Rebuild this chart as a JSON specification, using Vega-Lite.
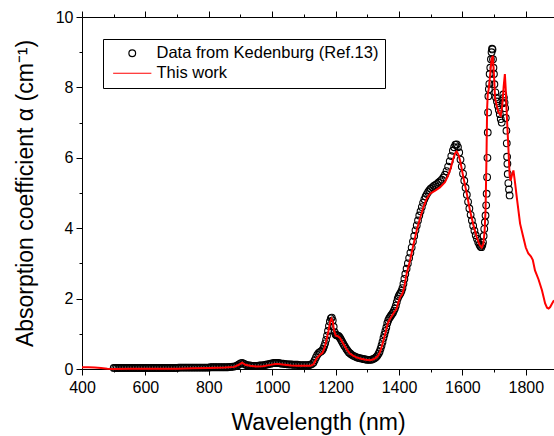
{
  "$schema": "https://vega.github.io/schema/vega-lite/v6.json",
  "width": 472,
  "height": 352,
  "autosize": {"type": "none"},
  "padding": {"left": 82, "top": 17, "right": 0, "bottom": 67},
  "config": {
    "view": {"stroke": null},
    "font": "Liberation Sans",
    "axis": {
      "domainColor": "#000000", "domainWidth": 1, "tickColor": "#000000", "tickWidth": 1,
      "labelColor": "#000000", "titleColor": "#000000", "labelFont": "Liberation Sans",
      "titleFont": "Liberation Sans", "labelFontSize": 16, "titleFontSize": 23,
      "titleFontWeight": "normal", "grid": false, "labelFlush": false, "labelOverlap": false, "format": "d"
    },
    "legend": {"labelFont": "Liberation Sans", "labelFontSize": 16.5, "labelColor": "#000000", "labelLimit": 400}
  },
  "datasets": {
    "ked": [
      {"w":500,"a":0.03},{"w":505,"a":0.03},{"w":510,"a":0.03},{"w":515,"a":0.03},{"w":520,"a":0.03},{"w":525,"a":0.03},{"w":530,"a":0.03},{"w":535,"a":0.03},{"w":540,"a":0.03},{"w":545,"a":0.03},
      {"w":550,"a":0.03},{"w":555,"a":0.03},{"w":560,"a":0.03},{"w":565,"a":0.03},{"w":570,"a":0.03},{"w":575,"a":0.03},{"w":580,"a":0.03},{"w":585,"a":0.03},{"w":590,"a":0.03},{"w":595,"a":0.03},
      {"w":600,"a":0.03},{"w":605,"a":0.03},{"w":610,"a":0.03},{"w":615,"a":0.03},{"w":620,"a":0.03},{"w":625,"a":0.03},{"w":630,"a":0.03},{"w":635,"a":0.03},{"w":640,"a":0.03},{"w":645,"a":0.03},
      {"w":650,"a":0.03},{"w":655,"a":0.03},{"w":660,"a":0.03},{"w":665,"a":0.03},{"w":670,"a":0.03},{"w":675,"a":0.03},{"w":680,"a":0.03},{"w":685,"a":0.03},{"w":690,"a":0.03},{"w":695,"a":0.03},
      {"w":700,"a":0.03},{"w":705,"a":0.04},{"w":710,"a":0.04},{"w":715,"a":0.04},{"w":720,"a":0.04},{"w":725,"a":0.04},{"w":730,"a":0.04},{"w":735,"a":0.04},{"w":740,"a":0.04},{"w":745,"a":0.04},
      {"w":750,"a":0.04},{"w":755,"a":0.04},{"w":760,"a":0.04},{"w":765,"a":0.04},{"w":770,"a":0.04},{"w":775,"a":0.04},{"w":780,"a":0.04},{"w":785,"a":0.04},{"w":790,"a":0.04},{"w":795,"a":0.04},
      {"w":800,"a":0.04},{"w":805,"a":0.05},{"w":810,"a":0.05},{"w":815,"a":0.05},{"w":820,"a":0.05},{"w":825,"a":0.05},{"w":830,"a":0.05},{"w":835,"a":0.05},{"w":840,"a":0.05},{"w":845,"a":0.05},
      {"w":850,"a":0.05},{"w":855,"a":0.05},{"w":860,"a":0.05},{"w":865,"a":0.06},{"w":870,"a":0.06},{"w":875,"a":0.07},{"w":880,"a":0.07},{"w":885,"a":0.08},{"w":890,"a":0.1},{"w":895,"a":0.13},
      {"w":900,"a":0.16},{"w":905,"a":0.17},{"w":910,"a":0.15},{"w":915,"a":0.13},{"w":920,"a":0.11},{"w":925,"a":0.1},{"w":930,"a":0.1},{"w":935,"a":0.09},{"w":940,"a":0.09},{"w":945,"a":0.09},
      {"w":950,"a":0.09},{"w":955,"a":0.09},{"w":960,"a":0.1},{"w":965,"a":0.1},{"w":970,"a":0.1},{"w":975,"a":0.11},{"w":980,"a":0.12},{"w":985,"a":0.13},{"w":990,"a":0.14},{"w":995,"a":0.15},
      {"w":1000,"a":0.16},{"w":1005,"a":0.17},{"w":1010,"a":0.17},{"w":1015,"a":0.17},{"w":1020,"a":0.17},{"w":1025,"a":0.16},{"w":1030,"a":0.15},{"w":1035,"a":0.15},{"w":1040,"a":0.14},{"w":1045,"a":0.14},
      {"w":1050,"a":0.13},{"w":1055,"a":0.13},{"w":1060,"a":0.13},{"w":1065,"a":0.12},{"w":1070,"a":0.12},{"w":1075,"a":0.12},{"w":1080,"a":0.12},{"w":1085,"a":0.11},{"w":1090,"a":0.11},{"w":1095,"a":0.11},
      {"w":1100,"a":0.11},{"w":1105,"a":0.11},{"w":1110,"a":0.11},{"w":1115,"a":0.11},{"w":1120,"a":0.12},{"w":1125,"a":0.14},{"w":1130,"a":0.18},{"w":1134,"a":0.25},{"w":1138,"a":0.33},{"w":1142,"a":0.4},
      {"w":1146,"a":0.45},{"w":1150,"a":0.48},{"w":1154,"a":0.5},{"w":1158,"a":0.53},{"w":1161,"a":0.58},{"w":1164,"a":0.65},{"w":1167,"a":0.73},{"w":1170,"a":0.83},{"w":1173,"a":0.95},{"w":1176,"a":1.08},
      {"w":1179,"a":1.22},{"w":1182,"a":1.35},{"w":1185,"a":1.44},{"w":1188,"a":1.46},{"w":1191,"a":1.38},{"w":1194,"a":1.2},{"w":1197,"a":1.05},{"w":1200,"a":0.98},{"w":1203,"a":0.96},{"w":1206,"a":0.95},
      {"w":1209,"a":0.94},{"w":1212,"a":0.91},{"w":1215,"a":0.87},{"w":1218,"a":0.82},{"w":1221,"a":0.77},{"w":1224,"a":0.72},{"w":1227,"a":0.67},{"w":1230,"a":0.63},{"w":1234,"a":0.57},{"w":1238,"a":0.52},
      {"w":1242,"a":0.47},{"w":1246,"a":0.44},{"w":1250,"a":0.41},{"w":1255,"a":0.38},{"w":1260,"a":0.36},{"w":1265,"a":0.34},{"w":1270,"a":0.32},{"w":1275,"a":0.31},{"w":1280,"a":0.3},{"w":1285,"a":0.29},
      {"w":1290,"a":0.28},{"w":1295,"a":0.27},{"w":1300,"a":0.26},{"w":1305,"a":0.26},{"w":1310,"a":0.26},{"w":1315,"a":0.27},{"w":1320,"a":0.29},{"w":1324,"a":0.31},{"w":1328,"a":0.34},{"w":1332,"a":0.38},
      {"w":1336,"a":0.44},{"w":1339,"a":0.5},{"w":1342,"a":0.58},{"w":1345,"a":0.67},{"w":1348,"a":0.77},{"w":1351,"a":0.88},{"w":1354,"a":0.98},{"w":1357,"a":1.08},{"w":1360,"a":1.18},{"w":1363,"a":1.3},
      {"w":1366,"a":1.38},{"w":1369,"a":1.44},{"w":1372,"a":1.48},{"w":1375,"a":1.52},{"w":1378,"a":1.56},{"w":1381,"a":1.6},{"w":1384,"a":1.66},{"w":1387,"a":1.72},{"w":1390,"a":1.8},{"w":1393,"a":1.9},
      {"w":1396,"a":2.0},{"w":1399,"a":2.07},{"w":1402,"a":2.12},{"w":1405,"a":2.16},{"w":1408,"a":2.22},{"w":1411,"a":2.3},{"w":1414,"a":2.42},{"w":1417,"a":2.56},{"w":1420,"a":2.7},{"w":1424,"a":2.85},
      {"w":1428,"a":3.0},{"w":1432,"a":3.15},{"w":1436,"a":3.3},{"w":1440,"a":3.45},{"w":1444,"a":3.62},{"w":1448,"a":3.78},{"w":1452,"a":3.94},{"w":1456,"a":4.08},{"w":1460,"a":4.22},{"w":1464,"a":4.36},
      {"w":1468,"a":4.48},{"w":1472,"a":4.6},{"w":1476,"a":4.72},{"w":1480,"a":4.82},{"w":1484,"a":4.9},{"w":1488,"a":4.97},{"w":1492,"a":5.03},{"w":1496,"a":5.08},{"w":1500,"a":5.12},{"w":1505,"a":5.16},
      {"w":1510,"a":5.2},{"w":1515,"a":5.23},{"w":1520,"a":5.26},{"w":1525,"a":5.3},{"w":1530,"a":5.34},{"w":1535,"a":5.38},{"w":1540,"a":5.44},{"w":1545,"a":5.52},{"w":1550,"a":5.62},{"w":1555,"a":5.75},
      {"w":1560,"a":5.9},{"w":1565,"a":6.05},{"w":1570,"a":6.2},{"w":1574,"a":6.3},{"w":1578,"a":6.37},{"w":1582,"a":6.38},{"w":1586,"a":6.3},{"w":1590,"a":6.15},{"w":1594,"a":5.95},{"w":1598,"a":5.75},
      {"w":1602,"a":5.55},{"w":1606,"a":5.35},{"w":1610,"a":5.15},{"w":1614,"a":4.95},{"w":1618,"a":4.75},{"w":1622,"a":4.56},{"w":1626,"a":4.38},{"w":1630,"a":4.22},{"w":1634,"a":4.07},{"w":1638,"a":3.93},
      {"w":1642,"a":3.8},{"w":1646,"a":3.7},{"w":1650,"a":3.6},{"w":1654,"a":3.53},{"w":1657,"a":3.48},{"w":1660,"a":3.46},{"w":1663,"a":3.52},{"w":1665,"a":3.6},{"w":1667,"a":3.78},{"w":1669,"a":3.98},
      {"w":1671,"a":4.17},{"w":1673,"a":4.36},{"w":1675,"a":4.65},{"w":1676.5,"a":4.98},{"w":1678,"a":5.45},{"w":1679,"a":6.0},{"w":1680,"a":6.72},{"w":1681,"a":7.29},{"w":1682,"a":7.75},{"w":1683.5,"a":7.95},
      {"w":1685,"a":8.1},{"w":1686,"a":8.38},{"w":1688,"a":8.56},{"w":1690,"a":8.8},{"w":1692,"a":9.0},{"w":1693.5,"a":9.1},{"w":1695,"a":9.08},{"w":1696.5,"a":8.8},{"w":1698,"a":8.56},{"w":1699.5,"a":8.38},
      {"w":1701,"a":8.09},{"w":1704,"a":7.86},{"w":1706,"a":7.71},{"w":1709,"a":7.6},{"w":1712,"a":7.48},{"w":1715,"a":7.36},{"w":1718,"a":7.24},{"w":1721,"a":7.1},{"w":1724,"a":7.0},{"w":1727,"a":7.55},
      {"w":1729,"a":7.8},{"w":1731,"a":7.71},{"w":1733,"a":7.57},{"w":1735,"a":7.41},{"w":1737,"a":7.13},{"w":1739,"a":6.77},{"w":1740,"a":6.41},{"w":1741,"a":6.03},{"w":1742,"a":5.83},{"w":1743,"a":5.54},
      {"w":1745,"a":5.28},{"w":1747,"a":5.1},{"w":1749,"a":4.93}
    ],
    "work": [
      {"w":400,"a":0.05},{"w":420,"a":0.05},{"w":440,"a":0.04},{"w":460,"a":0.03},{"w":480,"a":0.01},{"w":500,"a":0.0},{"w":550,"a":0.01},{"w":600,"a":0.01},{"w":650,"a":0.01},{"w":700,"a":0.01},
      {"w":750,"a":0.02},{"w":800,"a":0.03},{"w":850,"a":0.04},{"w":880,"a":0.06},{"w":895,"a":0.12},{"w":905,"a":0.18},{"w":915,"a":0.12},{"w":930,"a":0.09},{"w":950,"a":0.07},{"w":970,"a":0.08},
      {"w":990,"a":0.11},{"w":1010,"a":0.14},{"w":1020,"a":0.14},{"w":1040,"a":0.12},{"w":1060,"a":0.1},{"w":1080,"a":0.09},{"w":1100,"a":0.09},{"w":1120,"a":0.09},{"w":1130,"a":0.13},{"w":1140,"a":0.3},
      {"w":1150,"a":0.4},{"w":1158,"a":0.45},{"w":1165,"a":0.6},{"w":1172,"a":0.85},{"w":1178,"a":1.1},{"w":1183,"a":1.35},{"w":1187,"a":1.43},{"w":1191,"a":1.35},{"w":1195,"a":1.1},{"w":1200,"a":0.95},
      {"w":1207,"a":0.93},{"w":1214,"a":0.88},{"w":1222,"a":0.75},{"w":1230,"a":0.63},{"w":1238,"a":0.52},{"w":1245,"a":0.44},{"w":1255,"a":0.38},{"w":1266,"a":0.33},{"w":1280,"a":0.29},{"w":1295,"a":0.26},
      {"w":1308,"a":0.25},{"w":1318,"a":0.27},{"w":1326,"a":0.31},{"w":1334,"a":0.38},{"w":1340,"a":0.48},{"w":1346,"a":0.65},{"w":1352,"a":0.85},{"w":1358,"a":1.05},{"w":1364,"a":1.28},{"w":1370,"a":1.4},
      {"w":1377,"a":1.5},{"w":1385,"a":1.62},{"w":1392,"a":1.7},{"w":1398,"a":1.9},{"w":1404,"a":2.05},{"w":1410,"a":2.12},{"w":1416,"a":2.3},{"w":1424,"a":2.7},{"w":1435,"a":3.09},{"w":1445,"a":3.51},
      {"w":1456,"a":3.94},{"w":1466,"a":4.27},{"w":1477,"a":4.6},{"w":1487,"a":4.83},{"w":1498,"a":4.98},{"w":1514,"a":5.07},{"w":1529,"a":5.16},{"w":1545,"a":5.31},{"w":1555,"a":5.5},{"w":1563,"a":5.7},
      {"w":1571,"a":5.97},{"w":1577,"a":6.13},{"w":1582,"a":6.18},{"w":1587,"a":6.1},{"w":1593,"a":5.92},{"w":1603,"a":5.45},{"w":1614,"a":4.98},{"w":1624,"a":4.5},{"w":1635,"a":4.08},{"w":1645,"a":3.75},
      {"w":1654,"a":3.53},{"w":1661,"a":3.45},{"w":1666,"a":3.55},{"w":1670,"a":3.9},{"w":1673,"a":4.5},{"w":1676,"a":6.0},{"w":1678,"a":7.4},{"w":1680,"a":7.8},{"w":1683,"a":7.95},{"w":1687,"a":8.3},
      {"w":1692,"a":8.8},{"w":1696,"a":8.9},{"w":1700,"a":8.3},{"w":1703,"a":7.7},{"w":1709,"a":7.45},{"w":1714,"a":7.29},{"w":1721,"a":7.2},{"w":1726,"a":7.5},{"w":1730,"a":8.0},{"w":1734,"a":8.38},
      {"w":1737,"a":7.9},{"w":1740,"a":7.24},{"w":1745,"a":6.3},{"w":1749,"a":5.5},{"w":1752,"a":5.35},{"w":1756,"a":5.5},{"w":1761,"a":5.64},{"w":1766,"a":5.3},{"w":1772,"a":4.85},{"w":1782,"a":4.13},
      {"w":1792,"a":3.75},{"w":1800,"a":3.45},{"w":1808,"a":3.28},{"w":1816,"a":3.2},{"w":1822,"a":3.1},{"w":1829,"a":2.8},{"w":1840,"a":2.55},{"w":1851,"a":2.24},{"w":1861,"a":1.86},{"w":1867,"a":1.74},
      {"w":1872,"a":1.72},{"w":1877,"a":1.76},{"w":1883,"a":1.86},{"w":1889,"a":1.95}
    ],
    "dummy": [{"w":400,"a":0}]
  },
  "resolve": {"axis": {"x": "independent", "y": "independent"}},
  "layer": [
    {
      "data": {"name": "ked"},
      "mark": {"type": "point", "filled": false, "size": 45, "strokeWidth": 1.1, "opacity": 1},
      "encoding": {
        "x": {"field": "w", "type": "quantitative", "scale": {"domain": [400, 1889], "nice": false, "zero": false},
          "axis": {"orient": "bottom", "values": [400, 600, 800, 1000, 1200, 1400, 1600, 1800], "title": "Wavelength (nm)", "tickSize": 6, "labelPadding": 4, "titlePadding": 16}},
        "y": {"field": "a", "type": "quantitative", "scale": {"domain": [0, 10], "nice": false, "zero": false},
          "axis": {"orient": "left", "values": [0, 2, 4, 6, 8, 10], "title": "Absorption coefficient α (cm⁻¹)", "tickSize": 6, "labelPadding": 3, "titlePadding": 18}},
        "color": {"datum": "Data from Kedenburg (Ref.13)", "type": "nominal",
          "scale": {"domain": ["Data from Kedenburg (Ref.13)", "This work"], "range": ["#000000", "#ff0000"]},
          "legend": {"title": null, "orient": "none", "legendX": 21, "legendY": 22, "strokeColor": "#000000", "padding": 6,
            "symbolSize": 45, "symbolOffset": 15, "labelOffset": 16, "rowPadding": 3, "symbolStrokeWidth": 1.2,
            "symbolFillColor": "transparent", "fillColor": "#ffffff",
            "encode": {"symbols": {"update": {"strokeWidth": {"signal": "datum.value === 'This work' ? 2 : 1.2"}}}}}},
        "shape": {"datum": "Data from Kedenburg (Ref.13)", "type": "nominal",
          "scale": {"domain": ["Data from Kedenburg (Ref.13)", "This work"], "range": ["circle", "M-5.7,0L5.7,0"]}}
      }
    },
    {
      "data": {"name": "work"},
      "mark": {"type": "line", "color": "#ff0000", "strokeWidth": 2},
      "encoding": {
        "x": {"field": "w", "type": "quantitative", "axis": {"orient": "top", "values": [400, 600, 800, 1000, 1200, 1400, 1600, 1800], "labels": false, "title": null, "tickSize": 6}},
        "y": {"field": "a", "type": "quantitative", "axis": {"orient": "left", "values": [1, 3, 5, 7, 9], "labels": false, "title": null, "tickSize": 3, "domain": false}}
      }
    },
    {
      "data": {"name": "dummy"},
      "mark": {"type": "point", "opacity": 0},
      "encoding": {
        "x": {"field": "w", "type": "quantitative", "axis": {"orient": "bottom", "values": [500, 700, 900, 1100, 1300, 1500, 1700], "labels": false, "title": null, "tickSize": 3, "domain": false}},
        "y": {"field": "a", "type": "quantitative", "axis": null}
      }
    },
    {
      "data": {"name": "dummy"},
      "mark": {"type": "point", "opacity": 0},
      "encoding": {
        "x": {"field": "w", "type": "quantitative", "axis": {"orient": "top", "values": [500, 700, 900, 1100, 1300, 1500, 1700], "labels": false, "title": null, "tickSize": 3, "domain": false}},
        "y": {"field": "a", "type": "quantitative", "axis": null}
      }
    }
  ]
}
